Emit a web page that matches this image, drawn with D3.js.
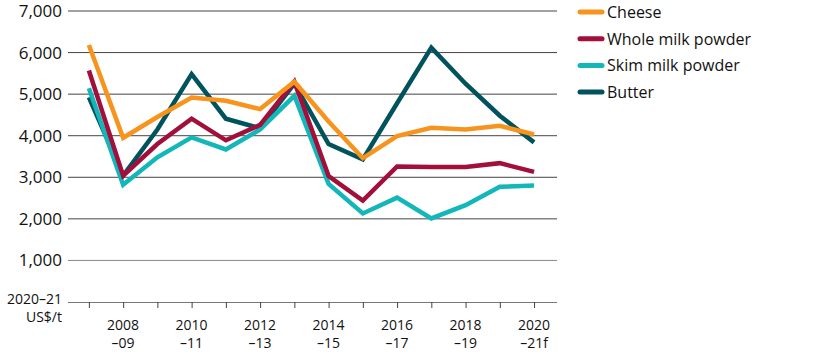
<!DOCTYPE html>
<html><head><meta charset="utf-8">
<script src="https://cdn.jsdelivr.net/npm/d3@7"></script>
<style>body{margin:0;background:#fff;} text{font-family:"Open Sans","Noto Sans",sans-serif;fill:#111;}</style>
</head><body>
<svg id="c" width="816" height="357"></svg>
<script>
const years = [2007,2008,2009,2010,2011,2012,2013,2014,2015,2016,2017,2018,2019,2020];
const cheese = [6180,3950,4450,4920,4840,4640,5300,4340,3460,3990,4190,4150,4240,4030];
const wmp    = [5570,3040,3800,4410,3890,4260,5300,3030,2440,3260,3250,3250,3340,3130];
const smp    = [5140,2820,3480,3960,3670,4150,4960,2840,2130,2510,2010,2330,2770,2800];
const butter = [4920,3040,4150,5480,4410,4180,5250,3800,3430,4780,6120,5250,4480,3840];
const yTicks = [1000,2000,3000,4000,5000,6000,7000];
const xLabelYears = [2008,2010,2012,2014,2016,2018,2020];
const xLabel2 = ["\u201309","\u201311","\u201313","\u201315","\u201317","\u201319","\u201321f"];
const seriesNames = ["Cheese","Whole milk powder","Skim milk powder","Butter"];
const colors = {"Cheese":"#F7941D","Whole milk powder":"#A20F3B","Skim milk powder":"#13B7B9","Butter":"#00535D"};
const data = {"Cheese":cheese,"Whole milk powder":wmp,"Skim milk powder":smp,"Butter":butter};

const svg = d3.select("#c");
const L=68, R=557, T=11, B=302;
const x = d3.scaleLinear().domain([2006.39,2020.67]).range([L,R]);
const y = d3.scaleLinear().domain([0,7000]).range([B,T]);

// gridlines
svg.append("g").selectAll("line").data(yTicks).join("line")
  .attr("x1",L).attr("x2",R).attr("y1",d=>y(d)).attr("y2",d=>y(d))
  .attr("stroke",d=>d===1000?"#888":"#444").attr("stroke-width",1);
// y labels
svg.append("g").selectAll("text").data(yTicks).join("text")
  .attr("x",62).attr("y",d=>y(d)+6).attr("text-anchor","end")
  .style("font-size","17px").text(d3.format(","));
svg.append("text").attr("x",62).attr("y",304).attr("text-anchor","end").style("font-size","14px").text("2020\u201321");
svg.append("text").attr("x",62).attr("y",322).attr("text-anchor","end").style("font-size","14px").text("US$/t");

// x axis
const xAxis = d3.axisBottom(x).tickValues(years).tickSize(6).tickFormat("");
const gx = svg.append("g").attr("transform",`translate(0,${B})`).call(xAxis);
gx.select(".domain").attr("stroke","#777").attr("d",`M${L},0.5H${R}`);
gx.selectAll(".tick line").attr("stroke","#444");
const xl = svg.append("g").selectAll("g").data(xLabelYears).join("g");
xl.append("text").attr("x",d=>x(d)).attr("y",330).attr("text-anchor","middle").style("font-size","14px").text(d=>d);
xl.append("text").attr("x",d=>x(d)).attr("y",348).attr("text-anchor","middle").style("font-size","14px").text((d,i)=>xLabel2[i]);

// lines
const line = d3.line().x((d,i)=>x(years[i])).y(d=>y(d));
["Butter","Skim milk powder","Whole milk powder","Cheese"].forEach(n=>{
  svg.append("path").datum(data[n]).attr("d",line).attr("fill","none")
    .attr("stroke",colors[n]).attr("stroke-width",4.5).attr("stroke-linejoin","miter").attr("stroke-linecap","butt");
});

// legend
const lg = svg.append("g").selectAll("g").data(seriesNames).join("g")
  .attr("transform",(d,i)=>`translate(580,${12+i*26.7})`);
lg.append("line").attr("x1",0).attr("x2",22).attr("stroke",d=>colors[d]).attr("stroke-width",5).attr("stroke-linecap","round");
lg.append("text").attr("x",27).attr("y",6).style("font-size","16px").text(d=>d);
</script>
</body></html>
